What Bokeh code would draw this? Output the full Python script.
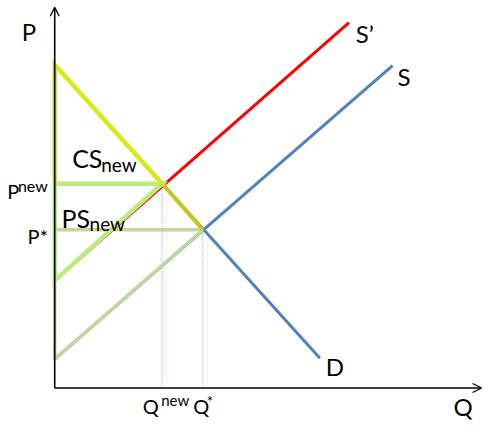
from bokeh.plotting import figure
from bokeh.models import Arrow, OpenHead, Range1d
from bokeh.core.properties import value
from bokeh.embed import file_html
from bokeh.resources import INLINE

# ---- data (price / quantity units) ----
q_axis_max = 441
p_axis_max = 397

demand_q = [0, 274]
demand_p = [337, 31]
supply_q = [0, 349]
supply_p = [30, 336]
supply_new_q = [0, 304]
supply_new_p = [112, 381]

q_star, p_star = 153, 165
q_new, p_new = 111, 213

FONT = value("Lato")

p = figure(width=484, height=422, output_backend="svg", toolbar_location=None,
           x_range=Range1d(-56, 444), y_range=Range1d(-36, 404),
           x_axis_location=None, y_axis_location=None,
           min_border=0, min_border_left=0, min_border_right=0,
           min_border_top=0, min_border_bottom=0)
p.grid.visible = False
p.outline_line_color = None
p.background_fill_color = "white"

BLUE = "#4F81BD"
RED = "#FF0000"
CS_COL = "#D7EA18"
PS_COL = "#B9EC7C"
OLD_COL = "#C3D69B"
OLIVE = "#C6C71E"
DOT = "#95B3D7"

# dotted guides
p.segment(x0=[q_new, q_star], y0=[0, 0], x1=[q_new, q_star], y1=[p_new, p_star],
          line_color=DOT, line_width=1, line_dash="1 1")

# curves
p.line(demand_q, demand_p, line_color=BLUE, line_width=3)
p.line(supply_q, supply_p, line_color=BLUE, line_width=3)
p.line(supply_new_q, supply_new_p, line_color=RED, line_width=3)

# old surplus (greyish green)
p.line([0, q_star], [p_star, p_star], line_color=OLD_COL, line_width=3.5)
p.line([supply_q[0], q_star], [supply_p[0], p_star], line_color=OLD_COL, line_width=3.5)
p.line([0, 0], [supply_p[0], supply_new_p[0]], line_color=OLD_COL, line_width=3.5)

# demand segment between equilibria
p.line([q_new, q_star], [p_new, p_star], line_color=OLIVE, line_width=4)

# new producer surplus
p.line([0, q_new, 0, 0], [p_new, p_new, supply_new_p[0], p_new],
       line_color=PS_COL, line_width=4.5, line_join="miter")

# new consumer surplus
p.line([0, 0, q_new], [p_new, demand_p[0], p_new], line_color=CS_COL, line_width=4.5,
       line_join="miter")

# axes with arrowheads
p.add_layout(Arrow(end=OpenHead(size=9, line_width=1.3, line_color="black"),
                   x_start=0, y_start=0, x_end=0, y_end=p_axis_max,
                   line_color="black", line_width=1.6))
p.add_layout(Arrow(end=OpenHead(size=9, line_width=1.3, line_color="black"),
                   x_start=0, y_start=0, x_end=q_axis_max, y_end=0,
                   line_color="black", line_width=1.6))

def txt(x, y, s, size, baseline="alphabetic", align="left"):
    p.text(x=[x], y=[y], text=[s], text_font=FONT, text_font_size=f"{size}px",
           text_color="black", text_baseline=baseline, text_align=align)

# axis labels
txt(-34, 372, "P", 24)
txt(412, -19, "Q", 24)
# curve labels
txt(supply_new_q[1] + 7, supply_new_p[1] - 11, "S\u2019", 24)
txt(supply_q[1] + 5, supply_p[1] - 11, "S", 24)
txt(demand_q[1] + 6, demand_p[1] - 9, "D", 24)
# surplus labels
txt(18, 240, "CS", 25)
txt(48, 233, "new", 19)
txt(7, 177, "PS", 25)
txt(36, 171, "new", 19)
# price labels
txt(-49, p_new - 8, "P", 20)
txt(-38, p_new - 2, "new", 16)
txt(-28, p_star - 7, "P*", 20)
# quantity labels
txt(q_new - 20, -19, "Q", 20)
txt(q_new - 1, -13, "new", 15)
txt(q_star - 10, -19, "Q", 20)
txt(q_star + 4, -4, "*", 15, baseline="top")

open("out.html", "w").write(file_html(p, INLINE))
